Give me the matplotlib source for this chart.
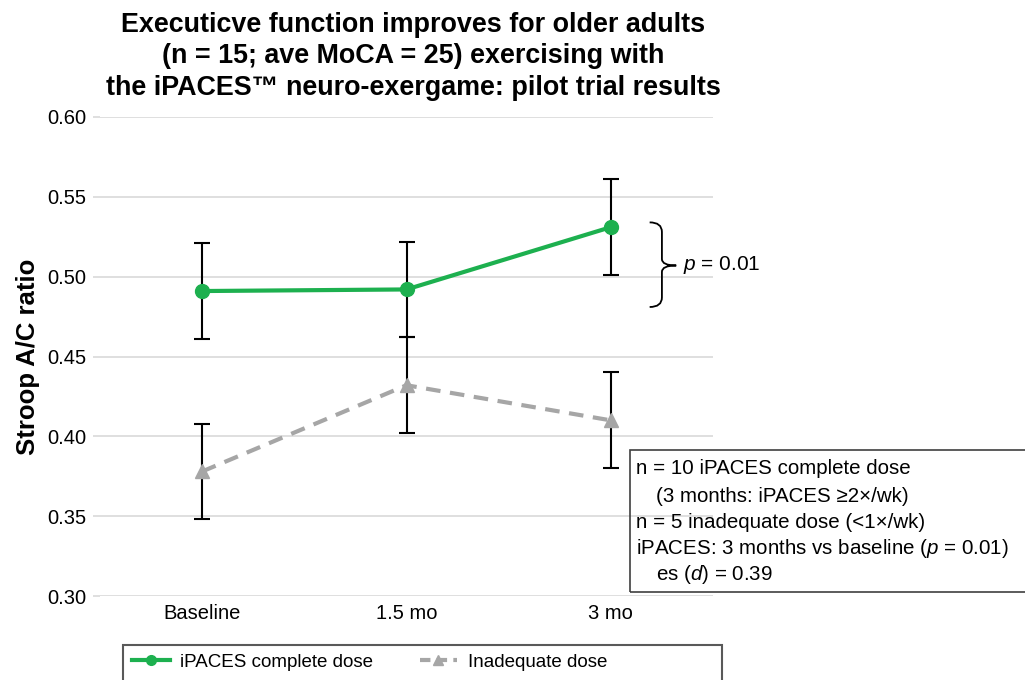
import numpy as np
import matplotlib
matplotlib.use("Agg")
import matplotlib.pyplot as plt
from matplotlib.path import Path
from matplotlib.patches import PathPatch, Rectangle
from matplotlib.lines import Line2D

plt.rcParams['font.family'] = ['Liberation Sans', 'DejaVu Sans']
plt.rcParams['mathtext.fontset'] = 'custom'
plt.rcParams['mathtext.rm'] = 'Liberation Sans'
plt.rcParams['mathtext.it'] = 'Liberation Sans:italic'

# data
timepoints = ["Baseline", "1.5 mo", "3 mo"]
complete_dose = [0.491, 0.492, 0.531]
complete_err = [0.030, 0.030, 0.030]
inadequate_dose = [0.378, 0.432, 0.410]
inadequate_err = [0.030, 0.030, 0.030]
y_ticks = [0.30, 0.35, 0.40, 0.45, 0.50, 0.55, 0.60]

green = '#1DB04F'
grey = '#A6A6A6'

fig = plt.figure(figsize=(10.25, 6.8), dpi=100)
ax = fig.add_axes([100 / 1025, 1 - 596 / 680, 613 / 1025, 479 / 680])

x = np.arange(len(timepoints))

# error bars under the markers
ax.errorbar(x, complete_dose, yerr=complete_err, fmt='none', ecolor='black',
            elinewidth=1.5, capsize=6, capthick=1.5, zorder=2)
ax.errorbar(x, inadequate_dose, yerr=inadequate_err, fmt='none', ecolor='black',
            elinewidth=1.5, capsize=6, capthick=1.5, zorder=2)

ax.plot(x, complete_dose, color=green, lw=3, marker='o', markersize=10, zorder=4)
ax.plot(x, inadequate_dose, color=grey, lw=3, linestyle=(0, (3.5, 2.3)),
        marker='^', markersize=10, zorder=3)

ax.set_xlim(-0.5, 2.5)
ax.set_ylim(0.30, 0.60)
ax.set_yticks(y_ticks)
ax.set_yticklabels([f"{v:.2f}" for v in y_ticks])
ax.set_xticks(x)
ax.set_xticklabels(timepoints)
ax.tick_params(axis='y', labelsize=14.5, length=5, color='#D9D9D9', width=1.2, pad=5)
ax.tick_params(axis='x', labelsize=14.5, length=0, pad=6)
ax.grid(True, axis='y', color='#D9D9D9', lw=1.2)
ax.set_axisbelow(True)
for s in ax.spines.values():
    s.set_visible(False)

ax.set_ylabel("Stroop A/C ratio", fontsize=18.5, fontweight='bold', labelpad=5)

# curly brace for the significance marker
bx0, bx1, bx2 = 2.19, 2.25, 2.32
y_top, y_mid, y_bot = 0.534, 0.507, 0.481
verts = [(bx0, y_top), (bx1, y_top), (bx1, y_top - 0.006),
         (bx1, y_mid + 0.004),
         (bx1, y_mid), (bx2, y_mid),
         (bx1, y_mid), (bx1, y_mid - 0.004),
         (bx1, y_bot + 0.006),
         (bx1, y_bot), (bx0, y_bot)]
codes = [Path.MOVETO, Path.CURVE3, Path.CURVE3,
         Path.LINETO,
         Path.CURVE3, Path.CURVE3,
         Path.CURVE3, Path.CURVE3,
         Path.LINETO,
         Path.CURVE3, Path.CURVE3]
ax.add_patch(PathPatch(Path(verts, codes), fill=False, lw=1.3, color='black',
                       clip_on=False, zorder=5))
ax.text(2.355, y_mid, "$p$ = 0.01", fontsize=15, ha='left', va='center')

# title, one line at a time
title_lines = [
    (25, "Executicve function improves for older adults"),
    (56, "(n = 15; ave MoCA = 25) exercising with"),
    (88, "the iPACES\u2122 neuro-exergame: pilot trial results"),
]
for ty, s in title_lines:
    fig.text(0.403, 1 - ty / 680, s, fontsize=19.4, fontweight='bold',
             ha='center', va='center')

# info box
fig.patches.append(Rectangle((630 / 1025, 1 - 592 / 680), 0.5, 142 / 680,
                             transform=fig.transFigure, fill=False,
                             edgecolor='#404040', lw=1.2))
info_lines = [
    (636, 468, "n = 10 iPACES complete dose"),
    (656, 497, "(3 months: iPACES \u22652\u00d7/wk)"),
    (636, 522, "n = 5 inadequate dose (<1\u00d7/wk)"),
    (636, 548, "iPACES: 3 months vs baseline ($p$ = 0.01)"),
    (656, 575, "es ($d$) = 0.39"),
]
for tx, ty, s in info_lines:
    fig.text(tx / 1025, 1 - ty / 680, s, fontsize=14.8, ha='left', va='center')

# legend with its own frame
fig.patches.append(Rectangle((123 / 1025, -0.05), 599 / 1025, 0.05 + 35 / 680,
                             transform=fig.transFigure, fill=False,
                             edgecolor='#595959', lw=1.5))
handles = [
    Line2D([], [], color=green, lw=3, marker='o', markersize=7,
           label='iPACES complete dose'),
    Line2D([], [], color=grey, lw=3, linestyle=(0, (2.5, 1.5)), marker='^',
           markersize=7, label='Inadequate dose'),
]
fig.legend(handles=handles, loc='center left',
           bbox_to_anchor=(132 / 1025, 1 - 662 / 680), ncol=2, frameon=False,
           fontsize=13.5, handlelength=2.0, handletextpad=0.55, columnspacing=2.5,
           borderpad=0, borderaxespad=0)

fig.savefig("out.png", dpi=100)
